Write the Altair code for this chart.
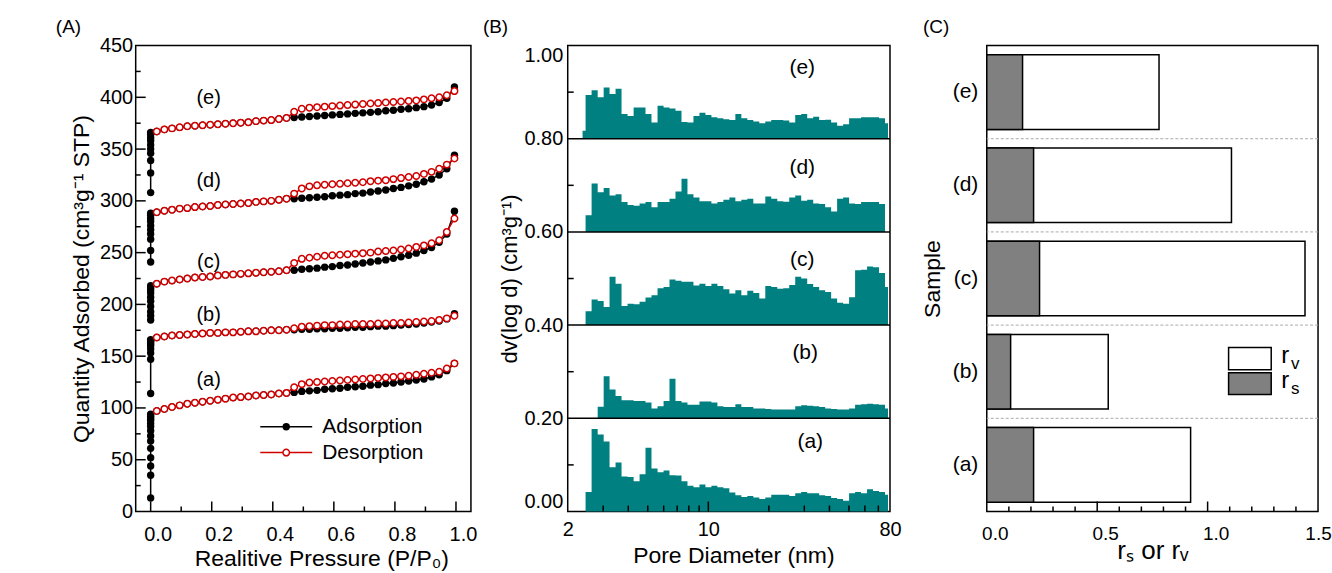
import altair as alt
import pandas as pd

FONT = "Liberation Sans"
RED = "#d10000"
TEAL = "#008080"
GRAY = "#808080"

SAMPLES = ["(a)", "(b)", "(c)", "(d)", "(e)"]

# ---------------- Panel A : N2 isotherms ----------------
P_MAIN = [0.020, 0.045, 0.070, 0.095, 0.120, 0.145, 0.170, 0.195, 0.220, 0.245,
          0.270, 0.295, 0.320, 0.345, 0.370, 0.395, 0.420, 0.445, 0.470, 0.495,
          0.520, 0.545, 0.570, 0.595, 0.620, 0.645, 0.670, 0.695, 0.720, 0.745,
          0.770, 0.795, 0.820, 0.845, 0.870, 0.895, 0.920, 0.945, 0.970, 0.995]
P_LOW = 0.0

MICRO = {
    "(a)": [13, 35, 44, 52, 61, 68, 73, 78, 82, 85, 88, 90, 92, 94],
    "(b)": [114, 147, 153, 157, 160, 162, 164, 165, 166],
    "(c)": [185, 189, 193, 198, 203, 207, 211, 214, 216, 218],
    "(d)": [241, 252, 263, 268, 272, 276, 280, 283, 286, 288],
    "(e)": [308, 327, 339, 346, 350, 354, 358, 361, 364, 366],
}
ADS = {
    "(a)": [97, 99, 101, 102.5, 104, 105, 106, 107, 108, 109, 110, 110.5, 111, 112, 112.5,
            113, 114, 114.5, 115, 116, 116.5, 117, 118, 118.5, 119, 120, 120.5, 121, 122,
            122.5, 123.5, 124, 125, 126, 127, 128, 130, 132, 136, 143],
    "(b)": [168, 169, 170, 170.5, 171, 171.5, 172, 172.5, 172.5, 173, 173, 173.5, 174, 174,
            174.5, 175, 175, 175.5, 175.5, 176, 176, 176.5, 176.5, 177, 177, 177.5, 178, 178,
            178.5, 179, 179, 179.5, 180, 180.5, 181, 182, 183, 184, 186, 191],
    "(c)": [220, 222, 223, 224, 225, 226, 226.5, 227, 228, 228.5, 229, 229.5, 230, 230.5,
            231, 231.5, 232, 233, 233, 234, 234.5, 235, 236, 236.5, 237.5, 238, 239, 240,
            241, 242, 243, 244.5, 246, 247.5, 249.5, 252, 255, 260, 268, 290],
    "(d)": [289, 290.5, 291.5, 292.5, 293, 294, 294.5, 295, 296, 296.5, 297, 297.5, 298, 299,
            299.5, 300, 301, 302, 302, 302.5, 303, 303.5, 304, 305, 305.5, 306, 307, 307.5,
            308.5, 309.5, 310.5, 312, 313, 314.5, 316, 318.5, 321, 325, 331, 344],
    "(e)": [367, 369, 370, 371, 372, 372.5, 373, 373.5, 374, 374.5, 375, 375.5, 376, 377,
            377.5, 378, 379, 380, 380.5, 381, 381.5, 382, 382.5, 383, 383.5, 384, 384.5, 385,
            385.5, 386, 387, 387.5, 388.5, 389, 390, 391, 392.5, 395, 399, 410],
}
# desorption branch above P/P0 = 0.47 (below that it follows adsorption)
DES_TAIL = {
    "(a)": [120, 123, 124.5, 125, 125.5, 126, 126.5, 127, 127.5, 128, 128.5, 129, 129.5,
            130, 130.5, 131, 132, 133, 134, 135, 138, 143],
    "(b)": [177, 178.5, 179, 179.5, 180, 180, 180.5, 180.5, 181, 181, 181, 181.5, 181.5,
            182, 182, 182.5, 183, 183.5, 184, 185, 186.5, 189],
    "(c)": [240, 244, 245, 246, 247, 247.5, 248, 248.5, 249, 249.5, 250, 251, 251.5, 252,
            253, 254, 255.5, 257, 259, 262, 270, 283],
    "(d)": [307, 312, 314, 315, 315.5, 316, 316.5, 317, 317.5, 318, 319, 319.5, 320, 321,
            322, 323, 324, 326, 328, 331, 335, 341],
    "(e)": [386, 389, 390, 390.5, 391, 391.5, 392, 392.5, 393, 393.5, 394, 394.5, 395,
            395.5, 396, 396.5, 397, 398, 399, 400, 402, 406],
}
N_SHARED = 18
LABEL_A_X = 0.19
LABEL_A_Y = [127, 190, 241, 319, 399]

# ---------------- Panel B : pore size distributions ----------------
D_NM = [2.37, 2.54, 2.72, 2.92, 3.12, 3.34, 3.58, 3.83, 4.11, 4.40, 4.71, 5.04, 5.40,
        5.79, 6.20, 6.63, 7.11, 7.61, 8.15, 8.73, 9.35, 10.01, 10.72, 11.48, 12.29, 13.17,
        14.10, 15.10, 16.17, 17.32, 18.55, 19.86, 21.27, 22.78, 24.40, 26.13, 27.98, 29.97,
        32.09, 34.37, 36.80, 39.41, 42.21, 45.20, 48.41, 51.84, 55.52, 59.46, 63.67, 68.19,
        73.02, 78.20]
PSD = {
    "(a)": [0, 0.042, 0.177, 0.165, 0.150, 0.095, 0.105, 0.075, 0.074, 0.065, 0.080, 0.137,
            0.092, 0.084, 0.088, 0.078, 0.077, 0.065, 0.055, 0.052, 0.058, 0.052, 0.055,
            0.052, 0.050, 0.041, 0.035, 0.031, 0.033, 0.030, 0.027, 0.030, 0.036, 0.036,
            0.036, 0.033, 0.039, 0.042, 0.039, 0.039, 0.035, 0.033, 0.029, 0.027, 0.023,
            0.039, 0.042, 0.039, 0.048, 0.044, 0.042, 0.036],
    "(b)": [0, 0, 0, 0.025, 0.090, 0.062, 0.048, 0.039, 0.039, 0.037, 0.037, 0.034, 0.021,
            0.026, 0.037, 0.085, 0.037, 0.034, 0.029, 0.029, 0.036, 0.036, 0.034, 0.026,
            0.024, 0.024, 0.030, 0.024, 0.024, 0.021, 0.021, 0.020, 0.019, 0.019, 0.019,
            0.019, 0.026, 0.028, 0.027, 0.026, 0.024, 0.021, 0.020, 0.019, 0.019, 0.021,
            0.029, 0.030, 0.031, 0.030, 0.029, 0.021],
    "(c)": [0, 0.030, 0.055, 0.052, 0.039, 0.104, 0.089, 0.041, 0.046, 0.045, 0.050, 0.059,
            0.064, 0.079, 0.082, 0.098, 0.095, 0.093, 0.093, 0.085, 0.089, 0.084, 0.089,
            0.084, 0.077, 0.068, 0.075, 0.064, 0.074, 0.069, 0.057, 0.084, 0.082, 0.078,
            0.079, 0.086, 0.104, 0.100, 0.088, 0.082, 0.075, 0.071, 0.057, 0.048, 0.046,
            0.060, 0.118, 0.119, 0.126, 0.124, 0.112, 0.082],
    "(d)": [0, 0.036, 0.104, 0.085, 0.094, 0.078, 0.081, 0.064, 0.058, 0.056, 0.061, 0.064,
            0.053, 0.064, 0.064, 0.071, 0.087, 0.114, 0.081, 0.074, 0.066, 0.066, 0.061,
            0.064, 0.069, 0.074, 0.066, 0.069, 0.071, 0.061, 0.061, 0.076, 0.071, 0.066,
            0.065, 0.074, 0.078, 0.067, 0.069, 0.061, 0.060, 0.053, 0.044, 0.071, 0.074,
            0.061, 0.060, 0.064, 0.064, 0.064, 0.060, 0],
    "(e)": [0.017, 0.094, 0.104, 0.089, 0.110, 0.096, 0.107, 0.053, 0.049, 0.067, 0.067,
            0.053, 0.035, 0.071, 0.067, 0.065, 0.060, 0.036, 0.035, 0.049, 0.056, 0.051,
            0.046, 0.044, 0.042, 0.040, 0.053, 0.044, 0.040, 0.037, 0.033, 0.037, 0.040,
            0.040, 0.039, 0.035, 0.051, 0.053, 0.044, 0.047, 0.040, 0.041, 0.035, 0.028,
            0.031, 0.044, 0.044, 0.046, 0.046, 0.046, 0.044, 0.033],
}
BASELINE = [0.0, 0.2, 0.4, 0.6, 0.8]
LABEL_B_X = [32.1, 30.3, 29.3, 29.3, 29.3]
LABEL_B_Y = [0.15, 0.34, 0.54, 0.737, 0.951]

# ---------------- Panel C : r_s / r_v ----------------
R_V = [0.923, 0.55, 1.441, 1.108, 0.78]
R_S = [0.212, 0.108, 0.239, 0.212, 0.162]
ORDER_C = ["(e)", "(d)", "(c)", "(b)", "(a)"]

# ---------------- build tables ----------------
ads_rows, des_rows = [], []
for s in SAMPLES:
    k = 0
    for v in MICRO[s]:
        ads_rows.append({"s": s, "p": P_LOW, "q": v, "i": k})
        k += 1
    for p, v in zip(P_MAIN, ADS[s]):
        ads_rows.append({"s": s, "p": p, "q": v, "i": k})
        k += 1
    des_vals = ADS[s][:N_SHARED] + DES_TAIL[s]
    for j, (p, v) in enumerate(zip(P_MAIN, des_vals)):
        des_rows.append({"s": s, "p": p, "q": v, "i": j})
df_ads = pd.DataFrame(ads_rows)
df_des = pd.DataFrame(des_rows)
df_labA = pd.DataFrame({"t": SAMPLES, "x": [LABEL_A_X] * 5, "y": LABEL_A_Y})

psd_rows = []
for s, b in zip(SAMPLES, BASELINE):
    for d, v in zip(D_NM, PSD[s]):
        psd_rows.append({"s": s, "d": d, "v": v, "base": b})
df_psd = pd.DataFrame(psd_rows)
df_labB = pd.DataFrame({"t": SAMPLES, "x": LABEL_B_X, "y": LABEL_B_Y})

df_C = pd.DataFrame({"s": SAMPLES, "rv": R_V, "rs": R_S})


def panel_label(text, dx):
    return alt.Chart(pd.DataFrame({"t": [text]})).mark_text(
        fontSize=19, font=FONT, align="left", baseline="middle", color="black").encode(
        x=alt.value(dx), y=alt.value(-19), text="t:N")


def ticks_x(vals, scale, h, length):
    return alt.Chart(pd.DataFrame({"v": vals})).mark_rule(color="black", strokeWidth=1.5).encode(
        x=alt.X("v:Q", scale=scale, axis=None), y=alt.value(h), y2=alt.value(h - length))


def ticks_y(vals, scale, length):
    return alt.Chart(pd.DataFrame({"v": vals})).mark_rule(color="black", strokeWidth=1.5).encode(
        y=alt.Y("v:Q", scale=scale, axis=None), x=alt.value(0), x2=alt.value(length))


# ---------------- Panel A chart ----------------
WA, HA = 336, 467
xA = alt.Scale(domain=[-0.049, 1.049], nice=False, zero=False)
yA = alt.Scale(domain=[0, 450], nice=False)

axA_x = alt.Axis(values=[0, 0.2, 0.4, 0.6, 0.8, 1.0], format=".1f", ticks=False, domain=False,
                 grid=False, labelFontSize=20, labelPadding=13, labelOffset=7, labelFlush=False,
                 title="Realitive Pressure (P/P₀)", titleFontSize=23, titleX=186, titleY=54,
                 titleAlign="center", titleBaseline="alphabetic")
axA_y = alt.Axis(values=[0, 50, 100, 150, 200, 250, 300, 350, 400, 450], ticks=False,
                 domain=False, grid=False, labelFontSize=20, labelPadding=3, labelFlush=False,
                 title="Quantity Adsorbed (cm³g⁻¹ STP)", titleFontSize=23, titlePadding=6)

ads_line = alt.Chart(df_ads).mark_line(color="black", strokeWidth=1.5).encode(
    x=alt.X("p:Q", scale=xA, axis=axA_x), y=alt.Y("q:Q", scale=yA, axis=axA_y),
    detail="s:N", order="i:Q")
ads_pts = alt.Chart(df_ads).mark_circle(color="black", size=55, opacity=1).encode(
    x=alt.X("p:Q", scale=xA, axis=None), y=alt.Y("q:Q", scale=yA, axis=None))
des_line = alt.Chart(df_des).mark_line(color=RED, strokeWidth=1.5).encode(
    x=alt.X("p:Q", scale=xA, axis=None), y=alt.Y("q:Q", scale=yA, axis=None),
    detail="s:N", order="i:Q")
des_pts = alt.Chart(df_des).mark_circle(fill="white", stroke=RED, strokeWidth=1.5, size=42,
                                        opacity=1).encode(
    x=alt.X("p:Q", scale=xA, axis=None), y=alt.Y("q:Q", scale=yA, axis=None))
labA = alt.Chart(df_labA).mark_text(fontSize=20, font=FONT, color="black").encode(
    x=alt.X("x:Q", scale=xA, axis=None), y=alt.Y("y:Q", scale=yA, axis=None), text="t:N")

legA = pd.DataFrame({"label": ["Adsorption", "Desorption"], "y": [81.9, 56.9],
                     "x1": [0.359, 0.359], "x2": [0.529, 0.529], "xm": [0.444, 0.444],
                     "xt": [0.562, 0.562]})
leg_col = alt.Scale(domain=["Adsorption", "Desorption"], range=["black", RED])
legA_rule = alt.Chart(legA).mark_rule(strokeWidth=1.5).encode(
    x=alt.X("x1:Q", scale=xA, axis=None), x2="x2:Q", y=alt.Y("y:Q", scale=yA, axis=None),
    color=alt.Color("label:N", scale=leg_col, legend=None))
legA_p1 = alt.Chart(legA).transform_filter("datum.label == 'Adsorption'").mark_circle(
    color="black", size=55, opacity=1).encode(
    x=alt.X("xm:Q", scale=xA, axis=None), y=alt.Y("y:Q", scale=yA, axis=None))
legA_p2 = alt.Chart(legA).transform_filter("datum.label == 'Desorption'").mark_circle(
    fill="white", stroke=RED, strokeWidth=1.5, size=42, opacity=1).encode(
    x=alt.X("xm:Q", scale=xA, axis=None), y=alt.Y("y:Q", scale=yA, axis=None))
legA_txt = alt.Chart(legA).mark_text(fontSize=21, font=FONT, align="left", color="black").encode(
    x=alt.X("xt:Q", scale=xA, axis=None), y=alt.Y("y:Q", scale=yA, axis=None), text="label:N")

panelA = alt.layer(
    ads_line, ads_pts, des_line, des_pts, labA,
    legA_rule, legA_p1, legA_p2, legA_txt,
    ticks_x([0, 0.2, 0.4, 0.6, 0.8, 1.0], xA, HA, 10),
    ticks_x([0.1, 0.3, 0.5, 0.7, 0.9], xA, HA, 5),
    ticks_y([50, 100, 150, 200, 250, 300, 350, 400], yA, 10),
    ticks_y([25, 75, 125, 175, 225, 275, 325, 375, 425], yA, 5),
    panel_label("(A)", -80),
).resolve_axis(x="independent", y="independent").properties(width=WA, height=HA)

# ---------------- Panel B chart ----------------
WB, HB = 323, 467
xB = alt.Scale(type="log", domain=[2, 80], nice=False)
yB = alt.Scale(domain=[0, 1], nice=False)
axB_x = alt.Axis(values=[2, 10, 80], format="d", ticks=False, domain=False, grid=False,
                 labelFontSize=20, labelPadding=8, labelFlush=False,
                 title="Pore Diameter (nm)", titleFontSize=23,
                 titleX=166, titleY=51, titleAlign="center", titleBaseline="alphabetic")
axB_y = alt.Axis(values=[0, 0.2, 0.4, 0.6, 0.8, 1.0], format=".2f", ticks=False, domain=False,
                 grid=False, labelFontSize=20, labelPadding=5, labelFlush=True,
                 title="dv(log d) (cm³g⁻¹)", titleFontSize=22, titlePadding=2)

psd_area = alt.Chart(df_psd).transform_calculate(top="datum.base + datum.v").mark_area(
    interpolate="step", color=TEAL, opacity=1).encode(
    x=alt.X("d:Q", scale=xB, axis=axB_x), y=alt.Y("top:Q", scale=yB, axis=axB_y),
    y2="base:Q", detail="s:N")
sepB = alt.Chart(pd.DataFrame({"v": [0.2, 0.4, 0.6, 0.8]})).mark_rule(
    color="black", strokeWidth=1.5).encode(y=alt.Y("v:Q", scale=yB, axis=None))
labB = alt.Chart(df_labB).mark_text(fontSize=21, font=FONT, color="black").encode(
    x=alt.X("x:Q", scale=xB, axis=None), y=alt.Y("y:Q", scale=yB, axis=None), text="t:N")

panelB = alt.layer(
    psd_area, sepB, labB,
    ticks_x([10], xB, HB, 10),
    ticks_x([3, 4, 5, 6, 7, 8, 9, 20, 30, 40, 50, 60, 70], xB, HB, 6),
    ticks_y([0.1, 0.3, 0.5, 0.7, 0.9], yB, 6),
    panel_label("(B)", -85),
).resolve_axis(x="independent", y="independent").properties(width=WB, height=HB)

# ---------------- Panel C chart ----------------
WC, HC = 332, 467
xC = alt.Scale(domain=[0, 1.5], nice=False)
yC = alt.Scale(domain=ORDER_C, paddingInner=0.2, paddingOuter=0.1)
yQ = alt.Scale(domain=[0, 5], nice=False)
axC_x = alt.Axis(values=[0, 0.5, 1.0, 1.5], format=".1f", ticks=False, domain=False, grid=False,
                 labelFontSize=19, labelPadding=13, labelFlush=False,
                 labelOffset={"condition": {"test": "datum.value < 1.4", "value": 8}, "value": 0},
                 title="rₛ or rᵥ", titleFontSize=26, titleX=166, titleY=47,
                 titleAlign="center", titleBaseline="alphabetic")
axC_y = alt.Axis(ticks=False, domain=False, grid=False, labelFontSize=21, labelPadding=9,
                 title="Sample", titleFontSize=23, titlePadding=8)

bar_v = alt.Chart(df_C).mark_bar(fill="white", stroke="black", strokeWidth=1.5).encode(
    x=alt.X("rv:Q", scale=xC, axis=axC_x), y=alt.Y("s:N", scale=yC, axis=axC_y))
bar_s = alt.Chart(df_C).mark_bar(fill=GRAY, stroke="black", strokeWidth=1.5).encode(
    x=alt.X("rs:Q", scale=xC, axis=None), y=alt.Y("s:N", scale=yC, axis=None))
sepC = alt.Chart(pd.DataFrame({"v": [1, 2, 3, 4]})).mark_rule(
    color="#aaaaaa", strokeWidth=1, strokeDash=[3, 2]).encode(
    y=alt.Y("v:Q", scale=yQ, axis=None))

legC = pd.DataFrame({"k": ["v", "s"], "x1": [1.095, 1.095], "x2": [1.288, 1.288],
                     "y1": [1.52, 1.255], "y2": [1.76, 1.49],
                     "xr": [1.333, 1.333], "yr": [1.665, 1.397],
                     "xs": [1.378, 1.378], "ys": [1.585, 1.317]})
legC_rect = alt.Chart(legC).mark_rect(stroke="black", strokeWidth=1.5).encode(
    x=alt.X("x1:Q", scale=xC, axis=None), x2="x2:Q",
    y=alt.Y("y1:Q", scale=yQ, axis=None), y2="y2:Q",
    fill=alt.Fill("k:N", scale=alt.Scale(domain=["v", "s"], range=["white", GRAY]), legend=None))
legC_r = alt.Chart(legC).mark_text(text="r", fontSize=24, font=FONT, align="left",
                                   color="black").encode(
    x=alt.X("xr:Q", scale=xC, axis=None), y=alt.Y("yr:Q", scale=yQ, axis=None))
legC_sub = alt.Chart(legC).mark_text(fontSize=17, font=FONT, align="left", color="black").encode(
    x=alt.X("xs:Q", scale=xC, axis=None), y=alt.Y("ys:Q", scale=yQ, axis=None), text="k:N")

panelC = alt.layer(
    bar_v, bar_s, sepC, legC_rect, legC_r, legC_sub,
    ticks_x([0.5, 1.0], xC, HC, 10),
    ticks_x([0.1, 0.2, 0.3, 0.4, 0.6, 0.7, 0.8, 0.9, 1.1, 1.2, 1.3, 1.4], xC, HC, 5),
    panel_label("(C)", -64),
).resolve_scale(y="independent").resolve_axis(x="independent", y="independent").properties(
    width=WC, height=HC)

chart = alt.hconcat(panelA, panelB, panelC, spacing=97, bounds="flush").properties(
    padding={"left": 55, "top": 16, "right": 0, "bottom": 0},
    autosize=alt.AutoSizeParams(type="pad"),
).configure(font=FONT).configure_view(stroke="black", strokeWidth=1.5).configure_axis(
    labelColor="black", titleColor="black", titleFontWeight="normal", labelFont=FONT,
    titleFont=FONT)

chart.save("out.html", embed_options={"renderer": "svg", "actions": False})
